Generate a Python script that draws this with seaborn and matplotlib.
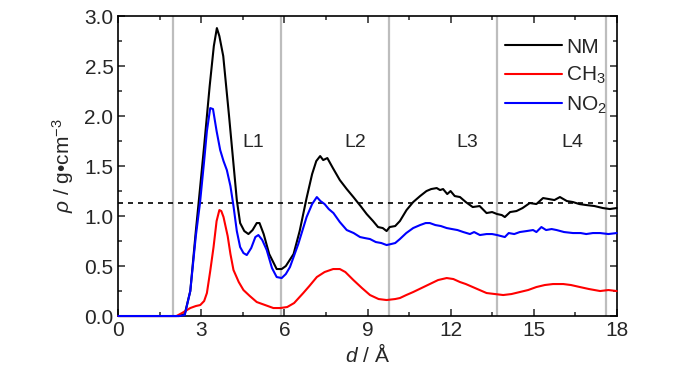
import pandas as pd
import matplotlib.pyplot as plt
import seaborn as sns
from matplotlib.ticker import MultipleLocator

# density profiles
nm_d = [0, 2.2, 2.4, 2.6, 2.8, 2.9, 3.1, 3.3, 3.45, 3.56, 3.65, 3.79, 4.0, 4.28, 4.4, 4.55, 4.7,
        4.85, 5.0, 5.1, 5.25, 5.45, 5.72, 5.9, 6.05, 6.33, 6.55, 6.8, 7.0, 7.15, 7.29, 7.4, 7.55,
        7.75, 8.0, 8.25, 8.49, 8.75, 8.97, 9.2, 9.38, 9.55, 9.69, 9.8, 10.0, 10.17, 10.41, 10.65,
        10.9, 11.13, 11.3, 11.5, 11.62, 11.73, 11.88, 12.0, 12.15, 12.34, 12.55, 12.8, 13.05,
        13.3, 13.5, 13.68, 13.85, 13.96, 14.15, 14.38, 14.6, 14.86, 15.1, 15.34, 15.55, 15.75,
        15.95, 16.2, 16.42, 16.65, 16.9, 17.2, 17.5, 17.75, 18.0]
nm_rho = [0, 0, 0.02, 0.25, 0.85, 1.13, 1.7, 2.3, 2.7, 2.88, 2.8, 2.6, 2.0, 1.16, 0.93, 0.85,
          0.82, 0.86, 0.93, 0.93, 0.82, 0.62, 0.47, 0.47, 0.5, 0.62, 0.85, 1.18, 1.42, 1.55,
          1.6, 1.56, 1.58, 1.48, 1.36, 1.27, 1.19, 1.1, 1.02, 0.95, 0.89, 0.88, 0.85, 0.89, 0.9,
          0.95, 1.06, 1.14, 1.2, 1.25, 1.27, 1.28, 1.26, 1.27, 1.22, 1.25, 1.2, 1.19, 1.14, 1.09,
          1.1, 1.03, 1.04, 1.02, 1.01, 0.99, 1.04, 1.05, 1.08, 1.13, 1.12, 1.18, 1.17, 1.16,
          1.19, 1.15, 1.14, 1.12, 1.11, 1.1, 1.08, 1.07, 1.08]

ch3_d = [0, 2.1, 2.3, 2.6, 2.8, 2.96, 3.1, 3.2, 3.32, 3.44, 3.55, 3.65, 3.72, 3.8, 3.95, 4.05,
         4.16, 4.35, 4.52, 4.75, 5.0, 5.3, 5.6, 5.85, 6.1, 6.35, 6.68, 6.9, 7.17, 7.45, 7.76,
         8.0, 8.2, 8.49, 8.8, 9.09, 9.4, 9.69, 10.0, 10.17, 10.4, 10.65, 10.95, 11.25, 11.55,
         11.86, 12.1, 12.34, 12.55, 12.8, 13.05, 13.3, 13.6, 13.9, 14.2, 14.5, 14.8, 15.1,
         15.4, 15.7, 16.07, 16.35, 16.67, 17.0, 17.4, 17.7, 18.0]
ch3_rho = [0, 0, 0.03, 0.08, 0.1, 0.11, 0.15, 0.23, 0.45, 0.69, 0.95, 1.06, 1.05, 0.99, 0.8,
           0.62, 0.46, 0.34, 0.26, 0.2, 0.14, 0.11, 0.08, 0.08, 0.09, 0.13, 0.23, 0.3, 0.39,
           0.44, 0.47, 0.47, 0.44, 0.36, 0.28, 0.21, 0.17, 0.16, 0.17, 0.18, 0.21, 0.24, 0.28,
           0.32, 0.36, 0.38, 0.37, 0.34, 0.32, 0.29, 0.26, 0.23, 0.22, 0.21, 0.22, 0.24, 0.26,
           0.29, 0.31, 0.32, 0.32, 0.31, 0.29, 0.27, 0.25, 0.26, 0.25]

no2_d = [0, 2.2, 2.4, 2.6, 2.8, 2.95, 3.1, 3.2, 3.32, 3.42, 3.55, 3.68, 3.8, 3.92, 4.05, 4.16,
         4.28, 4.4, 4.52, 4.64, 4.8, 4.95, 5.06, 5.2, 5.36, 5.55, 5.72, 5.9, 6.05, 6.2, 6.5,
         6.8, 7.0, 7.17, 7.3, 7.45, 7.6, 7.77, 8.0, 8.25, 8.5, 8.73, 8.9, 9.09, 9.3, 9.5, 9.69,
         9.85, 10.0, 10.17, 10.4, 10.65, 10.9, 11.1, 11.25, 11.45, 11.65, 11.86, 12.05, 12.25,
         12.46, 12.7, 12.85, 13.06, 13.3, 13.5, 13.68, 13.96, 14.1, 14.3, 14.5, 14.75, 14.98,
         15.1, 15.28, 15.45, 15.65, 15.83, 16.1, 16.42, 16.7, 16.9, 17.14, 17.4, 17.7, 18.0]
no2_rho = [0, 0, 0.01, 0.25, 0.8, 1.13, 1.55, 1.85, 2.08, 2.07, 1.85, 1.66, 1.55, 1.46, 1.3,
           1.1, 0.85, 0.69, 0.63, 0.61, 0.68, 0.79, 0.81, 0.76, 0.66, 0.48, 0.39, 0.38, 0.42,
           0.49, 0.72, 0.99, 1.12, 1.19, 1.15, 1.12, 1.07, 1.03, 0.94, 0.86, 0.83, 0.79, 0.78,
           0.77, 0.74, 0.73, 0.71, 0.72, 0.73, 0.77, 0.83, 0.88, 0.91, 0.93, 0.93, 0.91, 0.9,
           0.88, 0.87, 0.86, 0.84, 0.82, 0.84, 0.81, 0.82, 0.82, 0.81, 0.79, 0.83, 0.82, 0.84,
           0.85, 0.86, 0.84, 0.89, 0.86, 0.87, 0.86, 0.84, 0.83, 0.83, 0.82, 0.83, 0.83, 0.82, 0.83]

layer_bounds = [1.97, 5.88, 9.78, 13.68, 17.6]
layer_labels = ["L1", "L2", "L3", "L4"]
layer_label_x = [4.87, 8.55, 12.6, 16.4]
bulk_rho = 1.13

sns.set_theme(style="ticks")
plt.rcParams.update({
    'font.family': ['Liberation Sans', 'DejaVu Sans'],
    'mathtext.fontset': 'custom',
    'mathtext.rm': 'Liberation Sans',
    'mathtext.it': 'Liberation Sans:italic',
    'xtick.direction': 'in',
    'ytick.direction': 'in',
    'xtick.top': True,
    'ytick.right': True,
    'axes.edgecolor': 'black',
    'axes.linewidth': 1.2,
})

fig = plt.figure(figsize=(7, 3.74), dpi=100)
ax = fig.add_axes([0.169, 0.155, 0.712, 0.802])

for xb in layer_bounds:
    ax.axvline(xb, color='#BDBDBD', lw=1.6, zorder=1)
ax.axhline(bulk_rho, color='black', lw=1.2, ls=(0, (3, 3)), zorder=2)

sns.lineplot(x=nm_d, y=nm_rho, color='black', lw=1.5, label='NM', ax=ax, zorder=3, clip_on=False)
sns.lineplot(x=ch3_d, y=ch3_rho, color='red', lw=1.5, label='CH$_3$', ax=ax, zorder=3, clip_on=False)
sns.lineplot(x=no2_d, y=no2_rho, color='blue', lw=1.5, label='NO$_2$', ax=ax, zorder=3, clip_on=False)

for lab, xl in zip(layer_labels, layer_label_x):
    ax.text(xl, 1.74, lab, ha='center', va='center', fontsize=14)

ax.set_xlim(0, 18)
ax.set_ylim(0, 3.0)
ax.xaxis.set_major_locator(MultipleLocator(3))
ax.xaxis.set_minor_locator(MultipleLocator(1.5))
ax.yaxis.set_major_locator(MultipleLocator(0.5))
ax.yaxis.set_minor_locator(MultipleLocator(0.25))
ax.yaxis.set_major_formatter(plt.FormatStrFormatter('%.1f'))
ax.tick_params(which='major', length=5, width=1.1, labelsize=15, top=True, right=True)
ax.tick_params(which='minor', length=3, width=1.1, top=True, right=True)

ax.set_xlabel(r'$\it{d}$ / Å', fontsize=15, labelpad=2)
ax.set_ylabel(r'$\it{\rho}$ / g•cm$^{-3}$', fontsize=15, labelpad=6)

ax.legend(loc='upper right', bbox_to_anchor=(1.005, 0.97), frameon=False, fontsize=15,
          handlelength=2.7, handletextpad=0.2, labelspacing=0.4, borderaxespad=0.2)

fig.savefig('out.png', dpi=100)
